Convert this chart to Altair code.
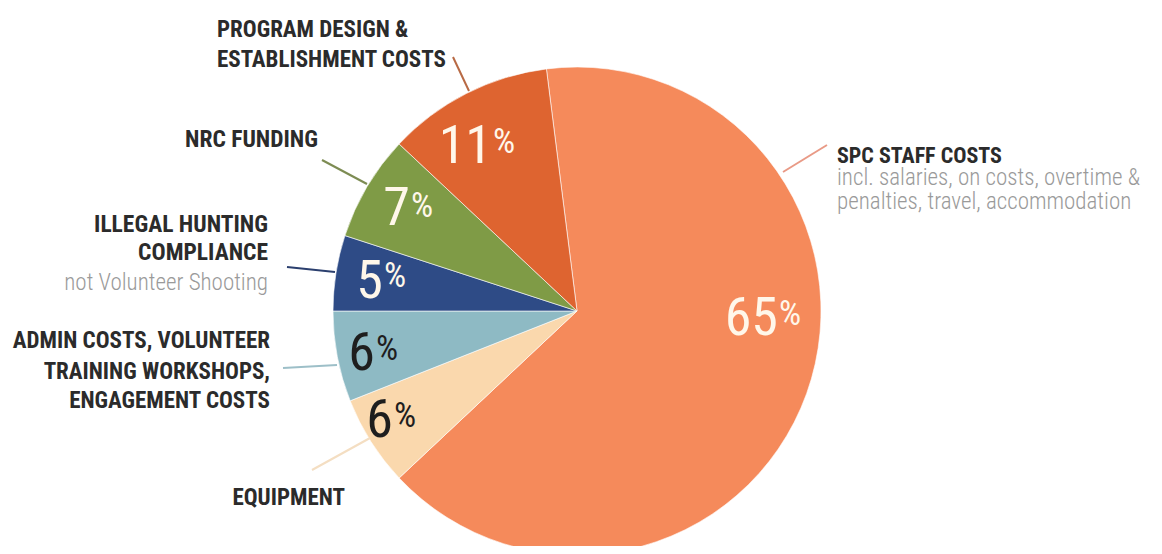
import math
import altair as alt
import pandas as pd

# ---------------- data ----------------
categories = [
    "SPC STAFF COSTS",
    "EQUIPMENT",
    "ADMIN COSTS, VOLUNTEER TRAINING WORKSHOPS, ENGAGEMENT COSTS",
    "ILLEGAL HUNTING COMPLIANCE",
    "NRC FUNDING",
    "PROGRAM DESIGN & ESTABLISHMENT COSTS",
]
shares = [65, 6, 6, 5, 7, 11]
slice_colors = ["#F58A5B", "#FAD8AD", "#8EBAC4", "#2E4B86", "#7F9B46", "#DE6430"]
leader_colors = ["#E99A86", "#F4DEC2", "#9DBFC8", "#2B3F6E", "#7D8C53", "#B86A45"]
pct_colors = ["#FFF7EA", "#1E1E1E", "#1E1E1E", "#FFF7EA", "#FFF7EA", "#FFF7EA"]

heading_lines = [
    ["SPC STAFF COSTS"],
    ["EQUIPMENT"],
    ["ADMIN COSTS, VOLUNTEER", "TRAINING WORKSHOPS,", "ENGAGEMENT COSTS"],
    ["ILLEGAL HUNTING", "COMPLIANCE"],
    ["NRC FUNDING"],
    ["PROGRAM DESIGN &", "ESTABLISHMENT COSTS"],
]
note_lines = [
    ["incl. salaries, on costs, overtime &", "penalties, travel, accommodation"],
    [],
    [],
    ["not Volunteer Shooting"],
    [],
    [],
]

# ---------------- layout (page pixels) ----------------
OFF = 8
CX, CY, R = 577, 311, 244
START = -2 * math.pi * 0.02  # first slice begins slightly left of 12 o'clock

label_anchor = [
    ("left", 837, [163], [185, 209], 22),
    ("right", 345, [505], [], 23),
    ("right", 270, [348, 379, 408], [], 23),
    ("right", 268, [232, 260], [290], 23.5),
    ("right", 318, [147], [], 23.5),
    ("left", 217, [37, 67], [], 23),
]
NOTE_SIZE = 23
leaders = [
    (783, 172, 827, 145),
    (312, 470, 370, 438),
    (283, 368, 337, 365),
    (287, 267, 335, 272),
    (322, 160, 367, 184),
    (453, 57, 469, 91),
]
# percent labels: right edge of number / left edge of "%", number baseline, "%" baseline
pct_pos = [
    (778, 335, 325),
    (393, 437, 427),
    (375, 370, 360),
    (383, 298, 287),
    (410, 225, 217),
    (492, 163, 153),
]

FONT = "Roboto Condensed, Liberation Sans Narrow, DejaVu Sans Condensed, sans-serif"

# ---------------- pie ----------------
pie_df = pd.DataFrame({"category": categories, "share": shares, "order": list(range(len(categories)))})
pie = alt.Chart(pie_df).mark_arc(outerRadius=R, stroke="#ffffff", strokeWidth=0.6).encode(
    theta=alt.Theta("share:Q", stack=True, scale=alt.Scale(range=[START, START + 2 * math.pi])),
    color=alt.Color("category:N", scale=alt.Scale(domain=categories, range=slice_colors), legend=None),
    order=alt.Order("order:Q"),
    x=alt.value(CX - OFF),
    y=alt.value(CY - OFF),
)

# ---------------- leader lines ----------------
lead_df = pd.DataFrame({
    "x": [l[0] - OFF for l in leaders],
    "y": [l[1] - OFF for l in leaders],
    "x2": [l[2] - OFF for l in leaders],
    "y2": [l[3] - OFF for l in leaders],
    "c": leader_colors,
})
lead = alt.Chart(lead_df).mark_rule(strokeWidth=2).encode(
    x=alt.X("x:Q", scale=None, axis=None),
    y=alt.Y("y:Q", scale=None, axis=None),
    x2="x2:Q",
    y2="y2:Q",
    color=alt.Color("c:N", scale=None),
)

# ---------------- label texts ----------------
rows = []
for i in range(len(categories)):
    align, x, hb, nb, hs = label_anchor[i]
    for t, b in zip(heading_lines[i], hb):
        rows.append({"t": t, "x": x - OFF, "y": b - OFF, "align": align, "kind": "head", "s": hs})
    for t, b in zip(note_lines[i], nb):
        rows.append({"t": t, "x": x - OFF, "y": b - OFF, "align": align, "kind": "note", "s": NOTE_SIZE})
lab_df = pd.DataFrame(rows)

layers = [pie, lead]
for align in ["left", "right"]:
    for kind in ["head", "note"]:
        sub = lab_df[(lab_df["align"] == align) & (lab_df["kind"] == kind)]
        if len(sub) == 0:
            continue
        layers.append(
            alt.Chart(sub).mark_text(
                align=align,
                baseline="alphabetic",
                font=FONT,
                fontWeight="bold" if kind == "head" else 300,
                color="#2B2B2B" if kind == "head" else "#9A9A9A",
            ).encode(
                x=alt.X("x:Q", scale=None, axis=None),
                y=alt.Y("y:Q", scale=None, axis=None),
                text="t:N",
                size=alt.Size("s:Q", scale=None, legend=None),
            )
        )

# ---------------- percentage labels ----------------
pct_df = pd.DataFrame({
    "num": [str(v) for v in shares],
    "x": [p[0] - OFF for p in pct_pos],
    "y": [p[1] - OFF for p in pct_pos],
    "py": [p[2] - OFF for p in pct_pos],
    "c": pct_colors,
})
nums = alt.Chart(pct_df).mark_text(
    align="right", baseline="alphabetic", font=FONT, fontSize=54, fontWeight="normal"
).encode(
    x=alt.X("x:Q", scale=None, axis=None),
    y=alt.Y("y:Q", scale=None, axis=None),
    text="num:N",
    color=alt.Color("c:N", scale=None),
)
signs = alt.Chart(pct_df).mark_text(
    align="left", baseline="alphabetic", font=FONT, fontSize=35, fontWeight="normal", dx=1
).encode(
    x=alt.X("x:Q", scale=None, axis=None),
    y=alt.Y("py:Q", scale=None, axis=None),
    text=alt.value("%"),
    color=alt.Color("c:N", scale=None),
)
layers += [nums, signs]

chart = alt.layer(*layers).properties(
    width=1146,
    height=538,
    autosize=alt.AutoSizeParams(type="none"),
    padding=0,
    background="#ffffff",
).configure_view(stroke=None)

chart.save("out.html", embed_options={"renderer": "svg", "actions": False})
